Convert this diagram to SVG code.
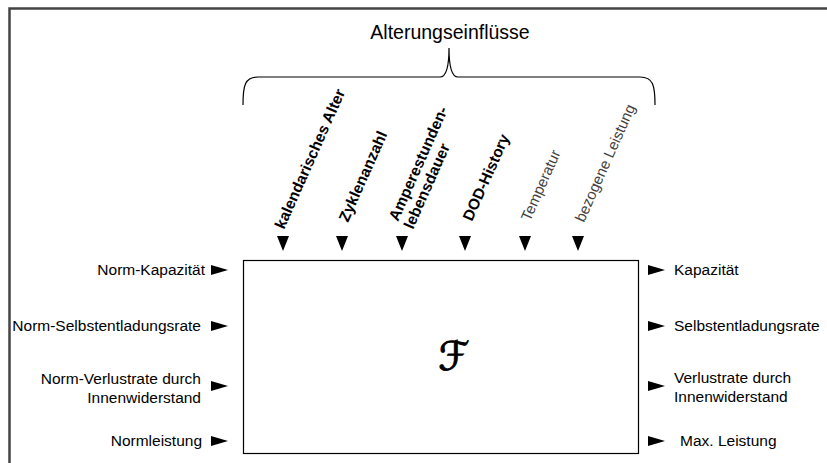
<svg xmlns="http://www.w3.org/2000/svg" width="827" height="463" viewBox="0 0 827 463">
<style>
text{font-family:"Liberation Sans",Arial,sans-serif;font-size:15.5px;fill:#000}
.b{font-weight:bold}
.l{fill:#404040;font-size:15px}
.ah{fill:#000}
.ln{fill:none;stroke:#000;stroke-width:1.2}
</style>
<rect x="0" y="0" width="827" height="463" fill="#fff"/>
<path d="M9.5,463 V8.5 H827" fill="none" stroke="#444" stroke-width="2.5"/>
<g id="title">
<text x="450" y="39" text-anchor="middle" style="font-size:19.5px">Alterungseinflüsse</text>
<path class="ln" d="M243,105 C243,85 245,77 258,77 L440,77 Q449,77 449,48 Q449,77 458,77 L640,77 C653,77 655,85 655,105" stroke-width="1"/>
</g>
<g id="box">
<rect x="243.5" y="260.5" width="395" height="193" fill="#fff" stroke="#000" stroke-width="1.2"/>
<text x="454" y="370" text-anchor="middle" style="font-family:'DejaVu Sans',serif;font-size:40px;stroke:#000;stroke-width:0.9">ℱ</text>
</g>
<g id="connectors">
<polygon class="ah" points="277,236 289,236 283,251"/>
<polygon class="ah" points="336,236 348,236 342,251"/>
<polygon class="ah" points="396,236 408,236 402,251"/>
<polygon class="ah" points="459,236 471,236 465,251"/>
<polygon class="ah" points="519,236 531,236 525,251"/>
<polygon class="ah" points="572,236 584,236 578,251"/>
<polygon class="ah" points="211,265 228,270 211,275"/>
<polygon class="ah" points="211,321 228,326 211,331"/>
<polygon class="ah" points="211,381 228,386 211,391"/>
<polygon class="ah" points="211,436 228,441 211,446"/>
<polygon class="ah" points="648,265 665,270 648,275"/>
<polygon class="ah" points="648,321 665,326 648,331"/>
<polygon class="ah" points="648,381 665,386 648,391"/>
<polygon class="ah" points="648,436 665,441 648,446"/>
</g>
<g id="inputs-top">
<text class="b" transform="translate(284,230) rotate(-66)">kalendarisches Alter</text>
<text class="b" transform="translate(348,223) rotate(-66)">Zyklenanzahl</text>
<text class="b" transform="translate(398,222) rotate(-66)">Amperestunden-</text>
<text class="b" transform="translate(413,230) rotate(-66)">lebensdauer</text>
<text class="b" transform="translate(472,222) rotate(-66)">DOD-History</text>
<text class="l" transform="translate(530,222) rotate(-66)">Temperatur</text>
<text class="l" transform="translate(584,223) rotate(-66)">bezogene Leistung</text>
</g>
<g id="inputs-left" text-anchor="end">
<text x="205" y="275">Norm-Kapazität</text>
<text x="201" y="331">Norm-Selbstentladungsrate</text>
<text x="201" y="384">Norm-Verlustrate durch</text>
<text x="201" y="403">Innenwiderstand</text>
<text x="202" y="446">Normleistung</text>
</g>
<g id="outputs-right">
<text x="674" y="275">Kapazität</text>
<text x="674" y="331">Selbstentladungsrate</text>
<text x="674" y="383">Verlustrate durch</text>
<text x="674" y="402">Innenwiderstand</text>
<text x="680" y="446">Max. Leistung</text>
</g>
</svg>
